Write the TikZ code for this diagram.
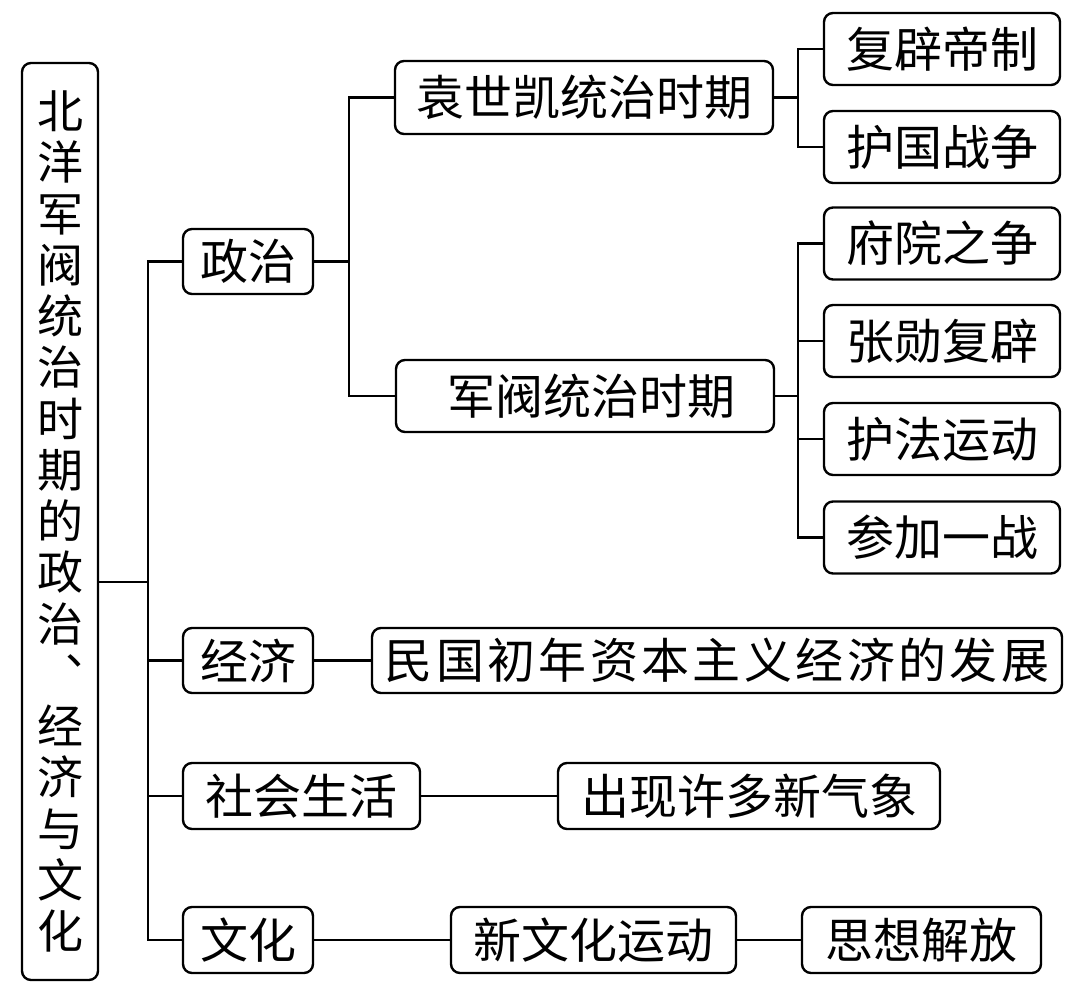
\documentclass[tikz,border=0pt]{standalone}
\usepackage{fontspec}
\setmainfont{Noto Sans CJK SC}
\begin{document}
\begin{tikzpicture}[x=1pt,y=-1pt,
  box/.style={draw, line width=2.4pt, rounded corners=9pt, inner sep=0pt,
    font=\fontsize{48}{50}\selectfont},
  ln/.style={line width=2.4pt}]
\useasboundingbox (0,0) rectangle (1080,992);
% root
\node[box, minimum width=76, minimum height=917, align=center,
  font=\fontsize{46}{51.25}\selectfont] (root) at (60,521.5)
  {北\\洋\\军\\阀\\统\\治\\时\\期\\的\\政\\治\\︑\\经\\济\\与\\文\\化};
% level 1
\node[box, minimum width=130, minimum height=65] (zz) at (248,261.5) {政治};
\node[box, minimum width=130, minimum height=65] (jj) at (248,660.5) {经济};
\node[box, minimum width=237, minimum height=66] (sh) at (301.5,796) {社会生活};
\node[box, minimum width=130, minimum height=66] (wh) at (248,940) {文化};
% politics
\node[box, minimum width=378, minimum height=73] (ysk) at (584,97.5) {袁世凯统治时期};
\node[box, minimum width=378, minimum height=72] (jf) at (585,396) {\hspace{13pt}军阀统治时期};
\node[box, minimum width=236, minimum height=72] (fp) at (942,49) {复辟帝制};
\node[box, minimum width=236, minimum height=72] (hg) at (942,147) {护国战争};
\node[box, minimum width=236, minimum height=72] (fy) at (942,243.5) {府院之争};
\node[box, minimum width=236, minimum height=72] (zx) at (942,341) {张勋复辟};
\node[box, minimum width=236, minimum height=72] (hf) at (942,439) {护法运动};
\node[box, minimum width=236, minimum height=72] (cj) at (942,537.5) {参加一战};
% economy, society, culture
\node[box, minimum width=690, minimum height=65] (mg) at (717,660.5)
  {\addfontfeature{LetterSpace=7}民国初年资本主义经济的发展};
\node[box, minimum width=382, minimum height=66] (cx) at (749,796) {出现许多新气象};
\node[box, minimum width=285, minimum height=66] (xwh) at (593.5,940) {新文化运动};
\node[box, minimum width=239, minimum height=66] (sx) at (921.5,940) {思想解放};
% connectors
\coordinate (tk) at (148,582);
\draw[ln] (root.east |- tk) -- (tk);
\draw[ln] (zz.west) -| (tk) |- (wh.west);
\draw[ln] (jj.west) -- (jj.west -| tk);
\draw[ln] (sh.west) -- (sh.west -| tk);
\path (ysk.west) ++(-45,0) coordinate (zb);
\draw[ln] (ysk.west) -| (zb) |- (jf.west);
\draw[ln] (zz.east) -- (zz.east -| zb);
\path (fp.west) ++(-25,0) coordinate (yb);
\draw[ln] (fp.west) -| (yb) |- (hg.west);
\draw[ln] (ysk.east) -- (ysk.east -| yb);
\path (fy.west) ++(-25,0) coordinate (jb);
\draw[ln] (fy.west) -| (jb) |- (cj.west);
\draw[ln] (zx.west) -- (zx.west -| jb);
\draw[ln] (hf.west) -- (hf.west -| jb);
\draw[ln] (jf.east) -- (jf.east -| jb);
\draw[ln] (jj.east) -- (mg.west);
\draw[ln] (sh.east) -- (cx.west);
\draw[ln] (wh.east) -- (xwh.west);
\draw[ln] (xwh.east) -- (sx.west);
\end{tikzpicture}
\end{document}
